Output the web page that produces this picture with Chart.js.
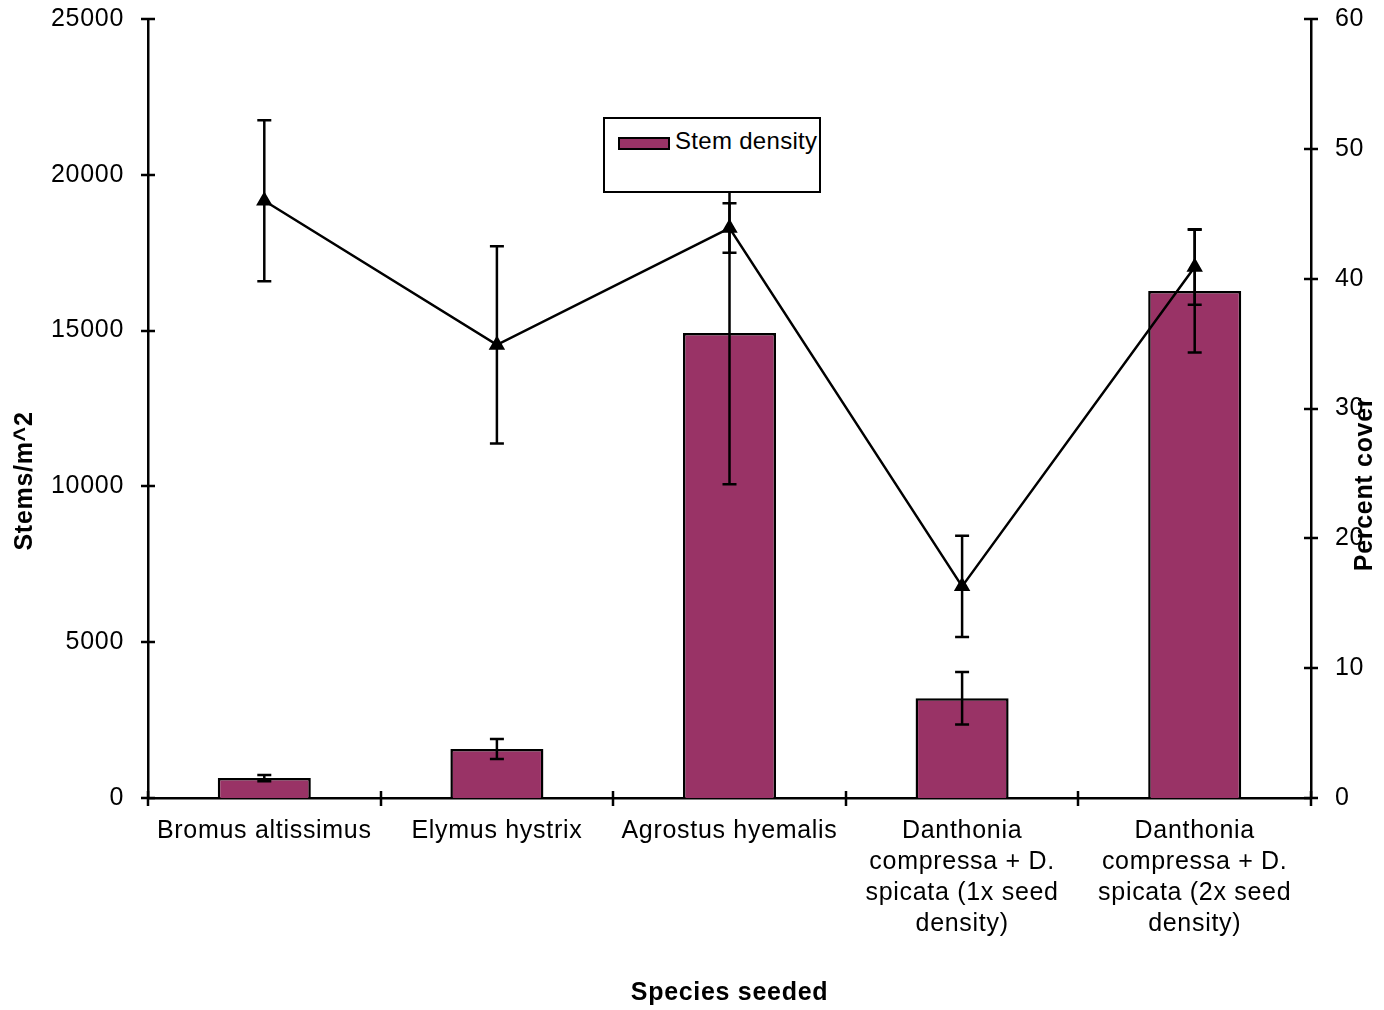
<!DOCTYPE html>
<html>
<head>
<meta charset="utf-8">
<script src="https://cdn.jsdelivr.net/npm/chart.js@4/dist/chart.umd.min.js"></script>
<style>
  body { margin: 0; background: #fff; }
  #wrap { position: relative; width: 1384px; height: 1010px; }
  #legend {
    position: absolute; left: 603px; top: 117px; width: 214px; height: 72px;
    border: 2px solid #000; background: #fff;
    font-family: 'Liberation Sans', Arial, sans-serif; font-size: 24px; color: #000;
    letter-spacing: 0.3px;
  }
  #legend .swatch {
    position: absolute; left: 13px; top: 18px; width: 48px; height: 9px;
    background: #993366; border: 2px solid #000;
  }
  #legend .label { position: absolute; left: 70px; top: 8px; line-height: 28px; }
</style>
</head>
<body>
<div id="wrap">
  <canvas id="chart" width="1384" height="1010"></canvas>
  <div id="legend"><div class="swatch"></div><div class="label">Stem density</div></div>
</div>
<script>
// data
var categories = [
  'Bromus altissimus',
  'Elymus hystrix',
  'Agrostus hyemalis',
  ['Danthonia', 'compressa + D.', 'spicata (1x seed', 'density)'],
  ['Danthonia', 'compressa + D.', 'spicata (2x seed', 'density)']
];
var stemDensity = [640, 1570, 14920, 3200, 16270];
var stemDensityErr = [100, 320, 4850, 840, 1970];
var percentCover = [46.0, 34.9, 43.9, 16.3, 40.9];
var percentCoverErr = [6.2, 7.6, 1.9, 3.9, 2.9];
var stemTicks = [0, 5000, 10000, 15000, 20000, 25000];
var coverTicks = [0, 10, 20, 30, 40, 50, 60];

var fontFamily = "'Liberation Sans', Arial, sans-serif";

// slightly wider text like the original
var spacing = {
  id: 'spacing',
  beforeUpdate: function(chart) { chart.ctx.letterSpacing = '0.7px'; },
  beforeDraw: function(chart) { chart.ctx.letterSpacing = '0.7px'; }
};

// whiskers for both series
var errorBars = {
  id: 'errorBars',
  afterDatasetsDraw: function(chart) {
    var ctx = chart.ctx;
    var x = chart.scales.x;
    ctx.save();
    ctx.strokeStyle = '#000';
    ctx.lineWidth = 2.5;
    function draw(vals, errs, scale) {
      vals.forEach(function(v, i) {
        var px = x.getPixelForValue(i);
        var top = scale.getPixelForValue(v + errs[i]);
        var bot = scale.getPixelForValue(v - errs[i]);
        ctx.beginPath();
        ctx.moveTo(px, top); ctx.lineTo(px, bot);
        ctx.moveTo(px - 7, top); ctx.lineTo(px + 7, top);
        ctx.moveTo(px - 7, bot); ctx.lineTo(px + 7, bot);
        ctx.stroke();
      });
    }
    draw(stemDensity, stemDensityErr, chart.scales.y);
    draw(percentCover, percentCoverErr, chart.scales.y1);
    ctx.restore();
  }
};

// crossing tick marks and the two rotated axis titles
var axisExtras = {
  id: 'axisExtras',
  afterDraw: function(chart) {
    var ctx = chart.ctx;
    var x = chart.scales.x, y = chart.scales.y, y1 = chart.scales.y1;
    var area = chart.chartArea;
    ctx.save();
    ctx.strokeStyle = '#000';
    ctx.lineWidth = 2.5;
    ctx.beginPath();
    stemTicks.forEach(function(t) {
      var py = Math.round(y.getPixelForValue(t));
      ctx.moveTo(area.left - 7, py); ctx.lineTo(area.left + 7, py);
    });
    coverTicks.forEach(function(t) {
      var py = Math.round(y1.getPixelForValue(t));
      ctx.moveTo(area.right - 7, py); ctx.lineTo(area.right + 7, py);
    });
    var w = (x.right - x.left) / categories.length;
    for (var i = 0; i <= categories.length; i++) {
      var px = Math.round(x.left + i * w);
      ctx.moveTo(px, area.bottom - 7); ctx.lineTo(px, area.bottom + 8);
    }
    ctx.stroke();

    ctx.fillStyle = '#000';
    ctx.font = 'bold 25px ' + fontFamily;
    ctx.textAlign = 'center';
    ctx.textBaseline = 'middle';
    ctx.translate(25, 481);
    ctx.rotate(-Math.PI / 2);
    ctx.fillText('Stems/m^2', 0, 0);
    ctx.setTransform(1, 0, 0, 1, 0, 0);
    ctx.translate(1365, 484);
    ctx.rotate(-Math.PI / 2);
    ctx.fillText('Percent cover', 0, 0);
    ctx.restore();
  }
};

Chart.defaults.font.family = fontFamily;
Chart.defaults.font.size = 25;
Chart.defaults.color = '#000';

var chart = new Chart('chart', {
  data: {
    labels: categories,
    datasets: [
      {
        label: 'Percent cover',
        type: 'line',
        data: percentCover,
        yAxisID: 'y1',
        borderColor: '#000',
        backgroundColor: '#000',
        borderWidth: 2.5,
        pointStyle: 'triangle',
        pointRadius: 7,
        pointBackgroundColor: '#000',
        pointBorderColor: '#000',
        fill: false,
        order: 1
      },
      {
        label: 'Stem density',
        type: 'bar',
        data: stemDensity,
        yAxisID: 'y',
        backgroundColor: '#993366',
        borderColor: '#000',
        borderWidth: 2.5,
        barPercentage: 0.4,
        categoryPercentage: 1,
        order: 2
      }
    ]
  },
  options: {
    responsive: false,
    animation: false,
    devicePixelRatio: 1,
    layout: { padding: { top: 0, left: 0, right: 0, bottom: 0 } },
    plugins: {
      legend: { display: false },
      tooltip: { enabled: false }
    },
    scales: {
      x: {
        grid: { display: false, drawTicks: false, offset: true },
        border: { display: true, color: '#000', width: 2.5 },
        ticks: { padding: 18, maxRotation: 0, autoSkip: false, font: { size: 25, lineHeight: 1.24 } },
        title: { display: true, text: 'Species seeded', font: { size: 25, weight: 'bold' }, padding: { top: 0, bottom: 2 } },
        afterFit: function(scale) { scale.height = 212; scale.paddingLeft = 0; scale.paddingRight = 0; }
      },
      y: {
        position: 'left',
        min: 0,
        max: 25000,
        grid: { display: false, drawTicks: false },
        border: { display: true, color: '#000', width: 2.5 },
        ticks: { stepSize: 5000, padding: 24, callback: function(v) { return String(v); } },
        afterFit: function(scale) { scale.width = 148; scale.paddingTop = 19; scale.paddingBottom = 0; }
      },
      y1: {
        position: 'right',
        min: 0,
        max: 60,
        grid: { display: false, drawTicks: false },
        border: { display: true, color: '#000', width: 2.5 },
        ticks: { stepSize: 10, padding: 24 },
        afterFit: function(scale) { scale.width = 73; scale.paddingTop = 19; scale.paddingBottom = 0; }
      }
    }
  },
  plugins: [spacing, errorBars, axisExtras]
});
</script>
</body>
</html>
